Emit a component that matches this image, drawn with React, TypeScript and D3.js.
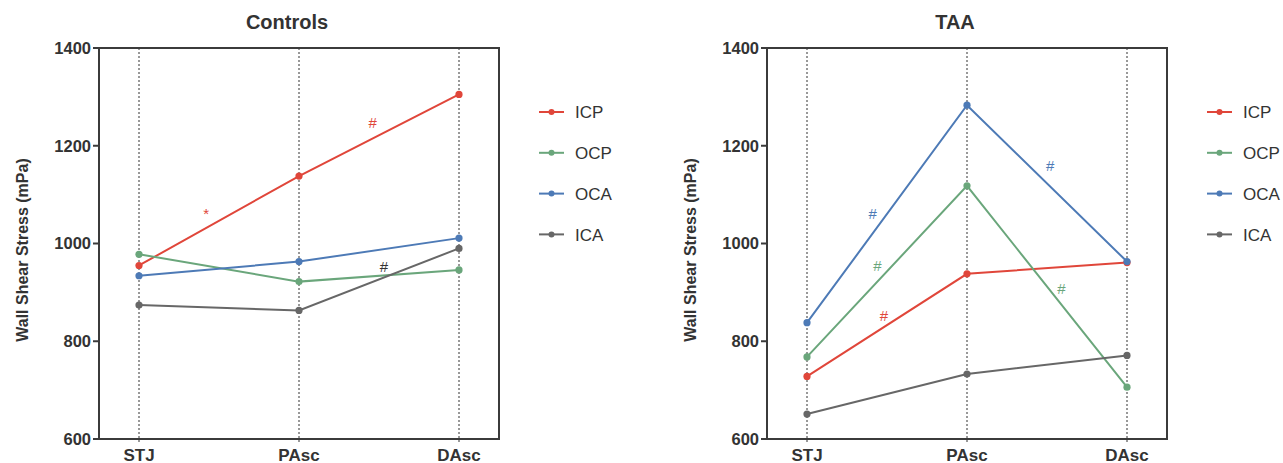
import React from "react";
import * as d3 from "d3";

const categories = ["STJ", "PAsc", "DAsc"];
const seriesNames = ["ICP", "OCP", "OCA", "ICA"];
const seriesColors = ["#e0463a", "#6aa67b", "#4d7ab6", "#676767"];
const yTicks = [600, 800, 1000, 1200, 1400];

// Controls
const controlsICP = [955, 1138, 1305];
const controlsOCP = [978, 922, 946];
const controlsOCA = [934, 963, 1011];
const controlsICA = [874, 863, 990];

// TAA
const taaICP = [728, 938, 961];
const taaOCP = [768, 1118, 706];
const taaOCA = [838, 1283, 963];
const taaICA = [651, 733, 771];

// annotations: position as fractional category index, value, symbol, color index (-1 = dark)
const controlsNotes = [
  { pos: 0.42, value: 1068, text: "*", color: 0 },
  { pos: 1.46, value: 1247, text: "#", color: 0 },
  { pos: 1.53, value: 952, text: "#", color: -1 },
];
const taaNotes = [
  { pos: 0.41, value: 1062, text: "#", color: 2 },
  { pos: 0.44, value: 954, text: "#", color: 1 },
  { pos: 0.48, value: 852, text: "#", color: 0 },
  { pos: 1.52, value: 1159, text: "#", color: 2 },
  { pos: 1.59, value: 907, text: "#", color: 1 },
];

const FONT = "'Liberation Sans', Arial, Helvetica, sans-serif";
const TEXT = "#333";
const AXIS = "#3b3b3b";

const W = 1283;
const H = 463;
const PLOT_W = 400;
const TOP = 48;
const BOTTOM = 439;

type Note = { pos: number; value: number; text: string; color: number };

function Panel({
  left,
  title,
  series,
  notes,
}: {
  left: number;
  title: string;
  series: number[][];
  notes: Note[];
}) {
  const x = d3.scalePoint<string>().domain(categories).range([left, left + PLOT_W]).padding(0.25);
  const y = d3.scaleLinear().domain([600, 1400]).range([BOTTOM, TOP]);
  const step = x.step();
  const xFrac = (p: number) => (x(categories[0]) as number) + p * step;
  const line = d3
    .line<number>()
    .x((_, i) => x(categories[i]) as number)
    .y((d) => y(d));

  return (
    <g>
      <text
        x={left + PLOT_W / 2 - 12}
        y={29}
        textAnchor="middle"
        fontFamily={FONT}
        fontWeight="bold"
        fontSize={20}
        fill={TEXT}
      >
        {title}
      </text>
      <text
        transform={`translate(${left - 77},250) rotate(-90)`}
        textAnchor="middle"
        dominantBaseline="central"
        fontFamily={FONT}
        fontWeight="bold"
        fontSize={16}
        fill={TEXT}
      >
        Wall Shear Stress (mPa)
      </text>
      {categories.map((c) => (
        <line
          key={"g" + c}
          x1={x(c)}
          x2={x(c)}
          y1={TOP}
          y2={BOTTOM + 5}
          stroke="#333"
          strokeWidth={1}
          strokeDasharray="2,2"
        />
      ))}
      <rect x={left} y={TOP} width={PLOT_W} height={BOTTOM - TOP} fill="none" stroke={AXIS} strokeWidth={2} />
      {yTicks.map((t) => (
        <g key={"yt" + t}>
          <line x1={left - 6} x2={left} y1={y(t)} y2={y(t)} stroke={AXIS} strokeWidth={2} />
          <text
            x={left - 8}
            y={y(t)}
            dy="0.36em"
            textAnchor="end"
            fontFamily={FONT}
            fontWeight="bold"
            fontSize={16.5}
            fill={TEXT}
          >
            {t}
          </text>
        </g>
      ))}
      {categories.map((c) => (
        <text
          key={"xl" + c}
          x={x(c)}
          y={461}
          textAnchor="middle"
          fontFamily={FONT}
          fontWeight="bold"
          fontSize={17}
          fill={TEXT}
        >
          {c}
        </text>
      ))}
      {series.map((s, si) => (
        <g key={"s" + si}>
          <path d={line(s) || ""} fill="none" stroke={seriesColors[si]} strokeWidth={2} />
          {s.map((v, i) => (
            <circle key={i} cx={x(categories[i])} cy={y(v)} r={3.6} fill={seriesColors[si]} />
          ))}
        </g>
      ))}
      {notes.map((n, i) => (
        <text
          key={"n" + i}
          x={xFrac(n.pos)}
          y={y(n.value)}
          dy={n.text === "*" ? "0.6em" : "0.36em"}
          textAnchor="middle"
          fontFamily={FONT}
          fontSize={15}
          fill={n.color < 0 ? "#333" : seriesColors[n.color]}
        >
          {n.text}
        </text>
      ))}
      {seriesNames.map((name, i) => {
        const ly = 112 + i * 40.8;
        const lx = left + PLOT_W + 40;
        return (
          <g key={"lg" + name}>
            <line x1={lx} x2={lx + 25} y1={ly} y2={ly} stroke={seriesColors[i]} strokeWidth={2} />
            <circle cx={lx + 12.5} cy={ly} r={3} fill={seriesColors[i]} />
            <text x={lx + 36} y={ly} dy="0.36em" fontFamily={FONT} fontSize={17} fill={TEXT}>
              {name}
            </text>
          </g>
        );
      })}
    </g>
  );
}

export default function App() {
  return (
    <svg
      width={W}
      height={H}
      viewBox={`0 0 ${W} ${H}`}
      style={{ position: "absolute", left: 0, top: 0, background: "#fff" }}
    >
      <rect width={W} height={H} fill="#fff" />
      <Panel
        left={99}
        title="Controls"
        series={[controlsICP, controlsOCP, controlsOCA, controlsICA]}
        notes={controlsNotes}
      />
      <Panel left={767} title="TAA" series={[taaICP, taaOCP, taaOCA, taaICA]} notes={taaNotes} />
    </svg>
  );
}
